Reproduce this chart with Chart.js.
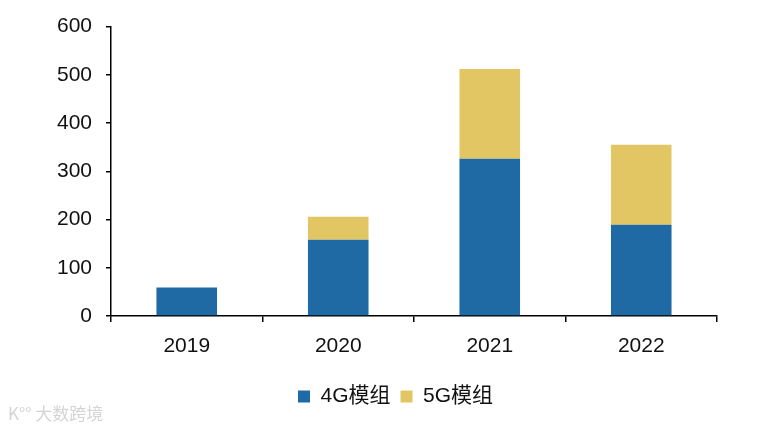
<!DOCTYPE html>
<html>
<head>
<meta charset="utf-8">
<script src="https://cdn.jsdelivr.net/npm/chart.js@4"></script>
<style>
    body { margin: 0; background: #fff; }
    #wrap { position: relative; width: 782px; height: 429px; }
    #mark { position: absolute; left: 8px; top: 400px; font: 17px "Noto Sans CJK SC", sans-serif; color: #d4d4d4; }
</style>
</head>
<body>
<div id="wrap">
    <canvas id="graphic"></canvas>
    <div id="mark">K°° 大数跨境</div>
</div>
<script>
// --- DATOS ---
const anios = ["2019", "2020", "2021", "2022"];
const modulos4G = [59, 158, 326, 189];
const modulos5G = [0, 48, 186, 166];
const ticksY = [0, 100, 200, 300, 400, 500, 600];

const fuente = "'Liberation Sans', 'Noto Sans CJK SC', sans-serif";
Chart.defaults.font.family = fuente;
Chart.defaults.color = "#111";

// mover la leyenda un poco a la derecha, como en el original
const moverLeyenda = {
    id: "moverLeyenda",
    afterLayout(chart) {
        const l = chart.legend;
        if (l) { l.left += 37; l.right += 37; }
    }
};

const ctx = document.getElementById("graphic").getContext("2d");

new Chart(ctx, {
    type: "bar",
    data: {
        labels: anios,
        datasets: [
            {
                label: "4G模组",
                data: modulos4G,
                backgroundColor: "#1f6aa5"
            },
            {
                label: "5G模组",
                data: modulos5G,
                backgroundColor: "#e3c664"
            }
        ]
    },
    plugins: [moverLeyenda],
    options: {
        responsive: true,
        maintainAspectRatio: false,
        animation: false,
        layout: {
            padding: { left: 0, right: 65, top: 17, bottom: 12 }
        },
        plugins: {
            legend: {
                position: "bottom",
                labels: {
                    boxWidth: 12,
                    boxHeight: 12,
                    padding: 10,
                    font: { size: 21 },
                    color: "#111"
                }
            },
            tooltip: { enabled: false }
        },
        datasets: {
            bar: {
                categoryPercentage: 1,
                barPercentage: 0.4
            }
        },
        scales: {
            x: {
                stacked: true,
                afterFit: (scale) => { scale.height = 60; },
                grid: {
                    display: true,
                    drawOnChartArea: false,
                    drawTicks: true,
                    tickLength: 6,
                    color: "#000",
                    lineWidth: 1.5
                },
                border: { display: true, color: "#000", width: 1.5 },
                ticks: { font: { size: 21 }, padding: 12, color: "#111" }
            },
            y: {
                stacked: true,
                min: 0,
                max: 600,
                afterFit: (scale) => { scale.width = 111; },
                afterBuildTicks: (scale) => {
                    scale.ticks = ticksY.map(v => ({ value: v }));
                },
                grid: {
                    display: true,
                    drawOnChartArea: false,
                    drawTicks: true,
                    tickLength: 5,
                    color: "#000",
                    lineWidth: 1.5
                },
                border: { display: true, color: "#000", width: 1.5 },
                ticks: { font: { size: 21 }, padding: 14, color: "#111" }
            }
        }
    }
});
</script>
</body>
</html>
